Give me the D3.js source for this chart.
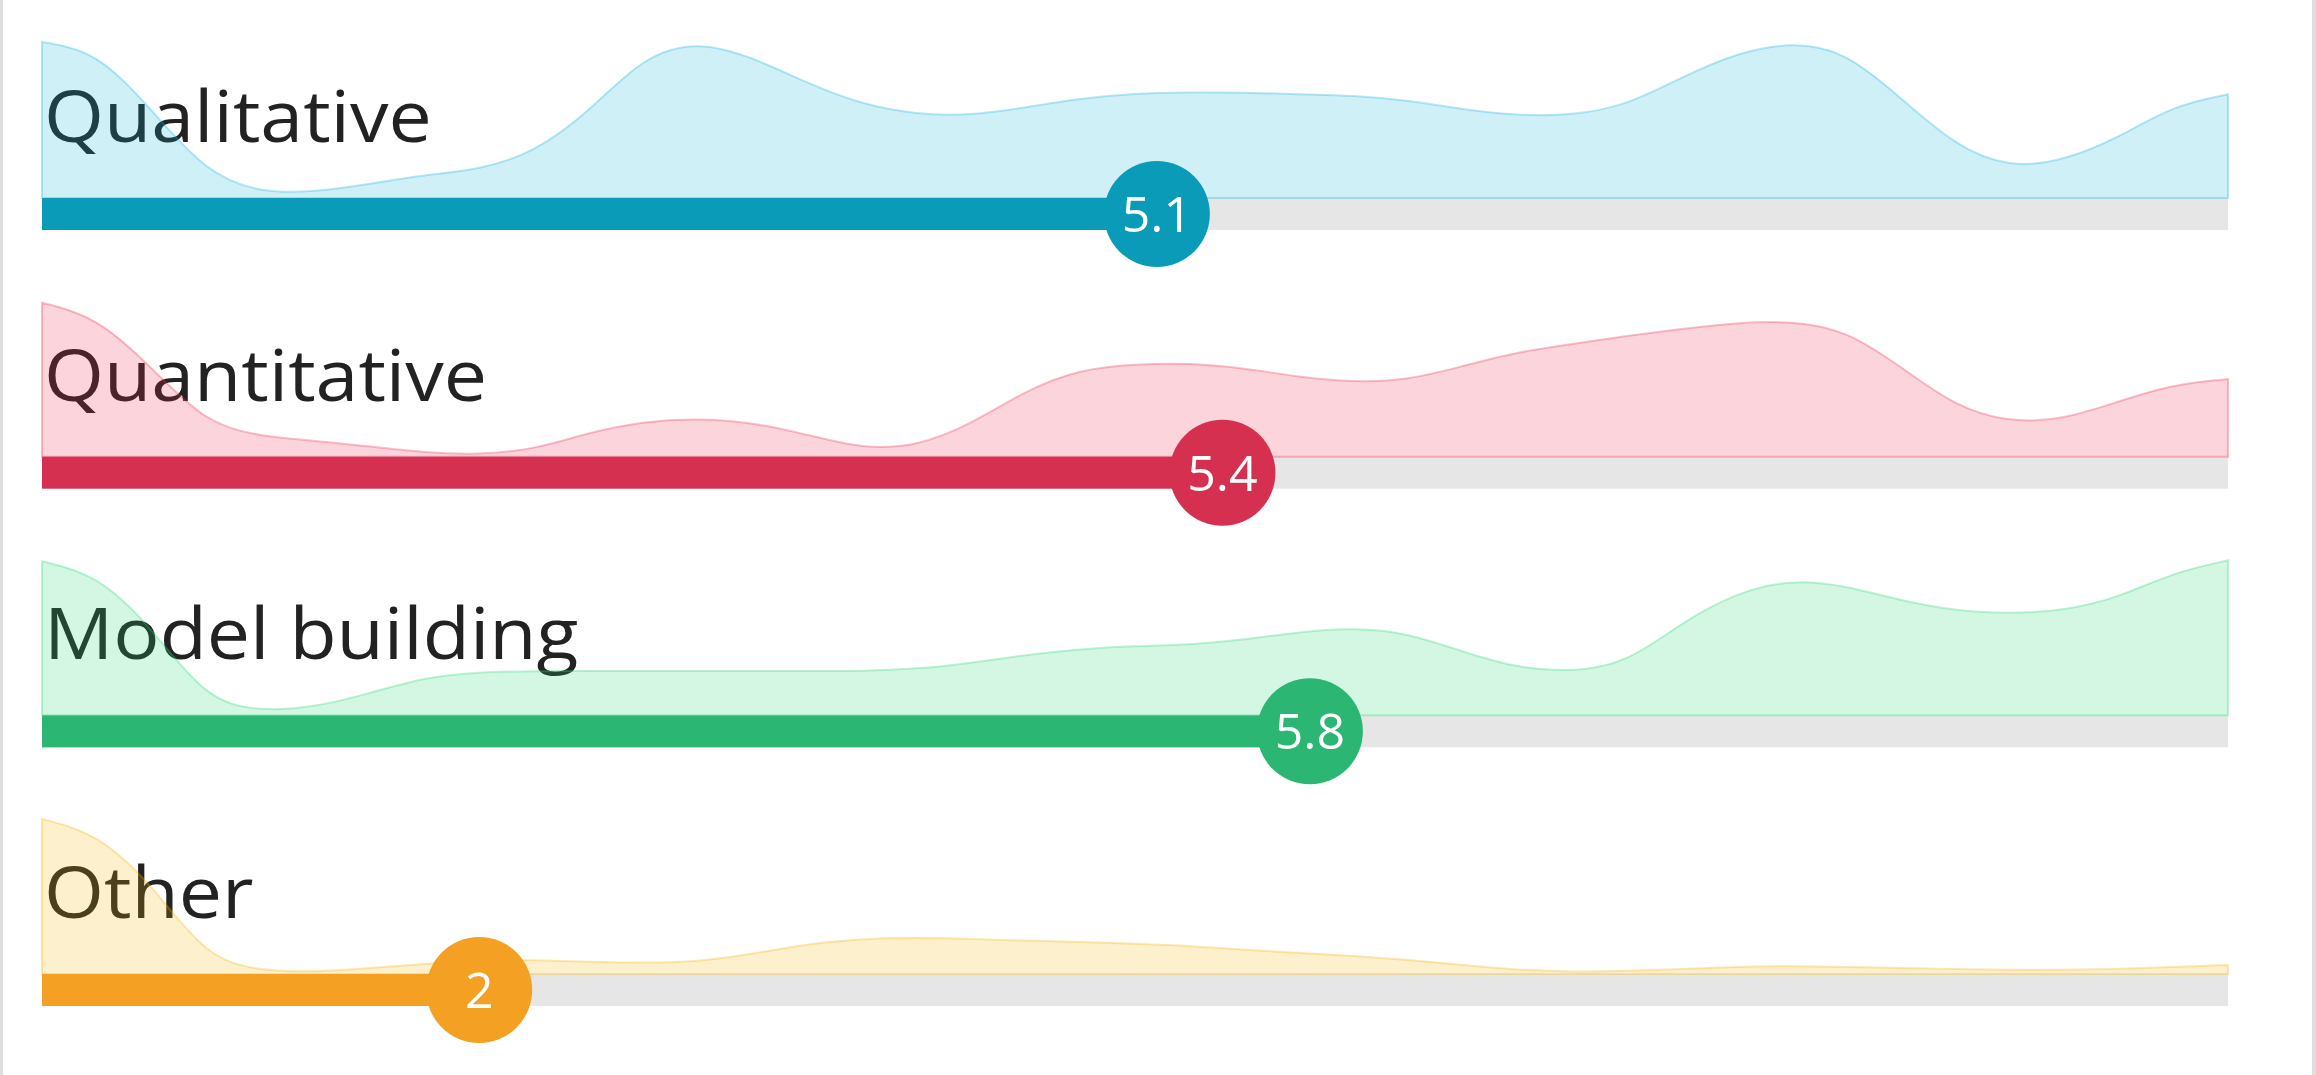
<!DOCTYPE html>
<html><head><meta charset="utf-8">
<script src="https://cdn.jsdelivr.net/npm/d3@7"></script>
<style>html,body{margin:0;padding:0;background:#fff;overflow:hidden}</style>
</head><body>
<svg id="chart" width="2316" height="1075"></svg>
<script>
// ---- data ----
const categories = ["Qualitative", "Quantitative", "Model building", "Other"];
const scores = [5.1, 5.4, 5.8, 2];
const scoreDomain = [0, 10];
// density sampled every 0.25 score points from 0 to 10
const gridStep = 0.25;
const densityQualitative = [155,146,88,25,5,6,14,23,28,45,85,141,156,140,114,93,83,82,90,99,104,105,105,103,102,97,88,82,82,92,120,144,155,146,100,52,30,37,60,92,103];
const densityQuantitative = [153,139,89,33,20,16,10,4,2,7,24,35,38,34,22,8,10,32,66,87,92,93,88,79,74,76,90,104,112,120,127,133,135,126,90,50,34,37,55,72,77];
const densityModel = [153,140,88,15,4,8,22,38,43,44,44,44,44,44,44,44,46,52,60,66,69,70,75,83,87,82,63,47,43,52,92,122,135,129,114,104,101,104,117,142,154];
const densityOther = [154,140,90,16,3,2,6,10,14,14,12,11,12,20,30,35,36,35,33,32,30,28,24,21,18,14,9,4,2,3,5,7,8,7,6,5,4,4,5,7,9];
const densities = [densityQualitative, densityQuantitative, densityModel, densityOther];

// ---- styles ----
const barColors = ["#0a9bb9", "#d5304f", "#2bb673", "#f4a123"];
const areaColors = ["rgb(20,180,220)", "rgb(240,45,80)", "rgb(40,215,120)", "rgb(245,180,0)"];
const trackColor = "#e6e6e6";
const fontFamily = "'Open Sans', 'Noto Sans', sans-serif";

const W = 2316, H = 1075;
const svg = d3.select("#chart");

const x = d3.scaleLinear().domain(scoreDomain).range([42, 2228]);
const row = d3.scalePoint().domain(categories).range([214, 990]);
const barH = 32;
const hScale = d3.scaleLinear().domain([0, 156]).range([0, 157]);

// card borders
svg.append("rect").attr("x", 0).attr("y", 0).attr("width", 3).attr("height", H).attr("fill", "#dedede");
svg.append("rect").attr("x", W - 4).attr("y", 0).attr("width", 4).attr("height", H).attr("fill", "#dedede");

categories.forEach((cat, i) => {
  const cy = row(cat);
  const base = cy - barH / 2;
  const g = svg.append("g");

  // track
  g.append("rect").attr("x", x(scoreDomain[0])).attr("y", base).attr("width", x(scoreDomain[1]) - x(scoreDomain[0])).attr("height", barH).attr("fill", trackColor);

  // label
  const t = g.append("text").attr("x", 44).attr("y", cy - 72)
    .attr("font-family", fontFamily).attr("font-size", 72).attr("fill", "#222")
    .text(cat);
  const w = t.node().getComputedTextLength();
  t.attr("textLength", w * 1.07).attr("lengthAdjust", "spacingAndGlyphs");

  // density area (drawn over the label, translucent)
  const pts = densities[i].map((v, k) => ({ s: k * gridStep, v }));
  const area = d3.area()
    .x(d => x(d.s))
    .y0(base)
    .y1(d => base - hScale(d.v))
    .curve(d3.curveBasis);
  g.append("path").datum(pts).attr("d", area)
    .attr("fill", areaColors[i]).attr("fill-opacity", 0.2)
    .attr("stroke", areaColors[i]).attr("stroke-opacity", 0.3).attr("stroke-width", 2);

  // value bar
  g.append("rect").attr("x", x(scoreDomain[0])).attr("y", base).attr("width", x(scores[i]) - x(scoreDomain[0])).attr("height", barH).attr("fill", barColors[i]);

  // knob
  g.append("circle").attr("cx", x(scores[i])).attr("cy", cy).attr("r", 53).attr("fill", barColors[i]);
  g.append("text").attr("x", x(scores[i])).attr("y", cy + 18)
    .attr("text-anchor", "middle").attr("font-family", fontFamily).attr("font-size", 50)
    .attr("fill", "#fff").text(d3.format("")(scores[i]));
});
</script>
</body></html>
